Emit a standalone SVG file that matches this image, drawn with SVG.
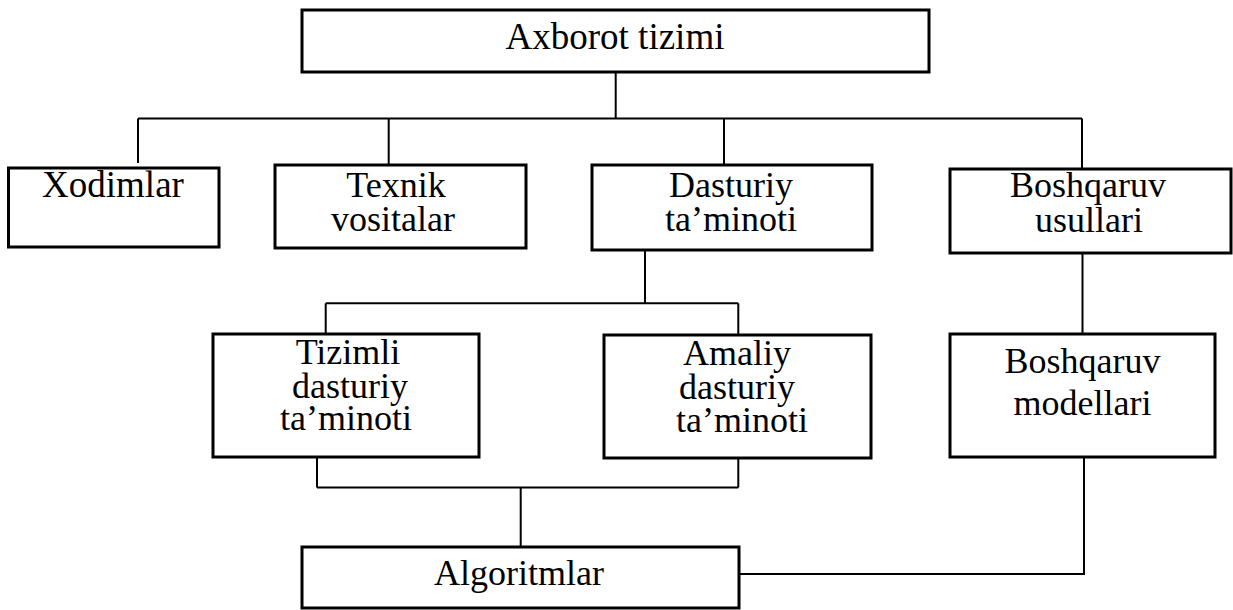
<svg xmlns="http://www.w3.org/2000/svg" width="1233" height="610" viewBox="0 0 1233 610">
<style>
.box{fill:#fff;stroke:#000;stroke-width:3}
.c{fill:none;stroke:#000;stroke-width:2}
text{font-family:"Liberation Serif","Times New Roman",serif;font-size:36px;fill:#000;text-anchor:middle}
.big{font-size:37px}
</style>
<rect width="1233" height="610" fill="#fff"/>
<g id="connectors">
<path class="c" d="M615.7 72 V118.5 M138 118.5 H1082 M138 118.5 V163 M388.7 118.5 V165 M724 118.5 V165 M1082 118.5 V169"/>
<path class="c" d="M645 250 V303.3 M325.7 303.3 H738.3 M325.7 303.3 V334 M738.3 303.3 V335"/>
<path class="c" d="M1082.5 253 V334"/>
<path class="c" d="M317 457 V487.5 M317 487.5 H738.3 M738.3 458 V487.5 M520.7 487.5 V547"/>
<path class="c" d="M739 574 H1084 V457"/>
</g>
<g id="axborot"><rect class="box" x="302" y="10" width="627" height="62"/><text class="big" x="615" y="49">Axborot tizimi</text></g>
<g id="xodimlar"><rect class="box" x="8.5" y="168" width="210.5" height="79"/><text class="big" x="113" y="197">Xodimlar</text></g>
<g id="texnik"><rect class="box" x="275" y="165" width="251" height="83"/><text x="396" y="197">Texnik</text><text x="393" y="231">vositalar</text></g>
<g id="dasturiy"><rect class="box" x="592" y="165" width="280" height="85"/><text x="731" y="197">Dasturiy</text><text x="731" y="231">ta’minoti</text></g>
<g id="boshqaruv-usullari"><rect class="box" x="950" y="169" width="281" height="84"/><text x="1088" y="197">Boshqaruv</text><text x="1089" y="232">usullari</text></g>
<g id="tizimli"><rect class="box" x="213" y="334" width="266" height="123"/><text x="348" y="364">Tizimli</text><text x="350" y="398">dasturiy</text><text x="346" y="430">ta’minoti</text></g>
<g id="amaliy"><rect class="box" x="604" y="335" width="267" height="123"/><text x="737" y="365">Amaliy</text><text x="737" y="399">dasturiy</text><text x="742" y="431.5">ta’minoti</text></g>
<g id="boshqaruv-modellari"><rect class="box" x="950" y="334" width="265" height="123"/><text x="1082.5" y="373">Boshqaruv</text><text x="1082.5" y="415">modellari</text></g>
<g id="algoritmlar"><rect class="box" x="302" y="547" width="437" height="61"/><text x="519" y="585">Algoritmlar</text></g>
</svg>
